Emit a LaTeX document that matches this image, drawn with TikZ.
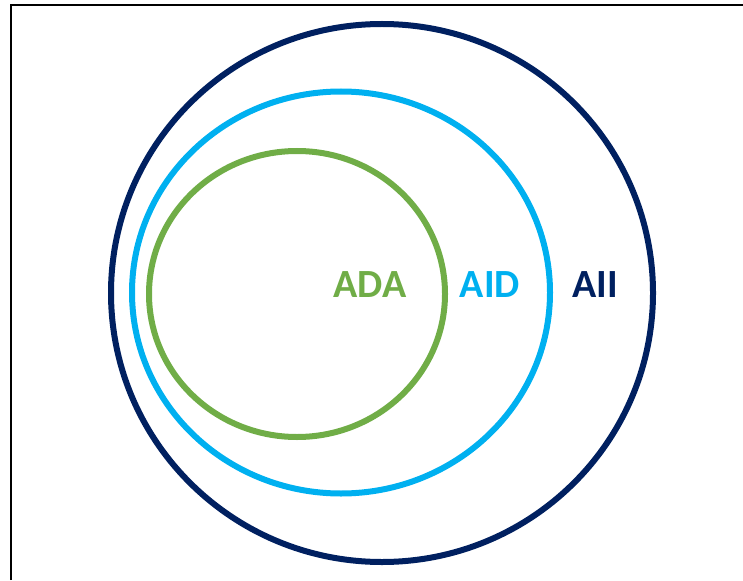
\documentclass[tikz,border=0pt]{standalone}
\usepackage{fontspec}
\setmainfont{Carlito}
\definecolor{allnavy}{RGB}{0,32,96}
\definecolor{aidblue}{RGB}{0,176,240}
\definecolor{adagreen}{RGB}{112,173,71}
\begin{document}
\begin{tikzpicture}[x=1pt, y=-1pt,
    ring/.style={line width=6pt},
    setlabel/.style={anchor=base, inner sep=0pt, font=\fontsize{40}{40}\selectfont\bfseries}]

    \pgfmathsetmacro{\w}{743}
    \pgfmathsetmacro{\h}{580}

    % 枠
    \useasboundingbox (0,0) rectangle (\w,\h);
    \draw[line width=2pt] (10.5,\h) -- (10.5,5.5) -- (\w,5.5);

    % 円
    \draw[ring, allnavy] (382,293) ellipse [x radius=271, y radius=269];
    \draw[ring, aidblue] (341,292.5) ellipse [x radius=209, y radius=201];
    \draw[ring, adagreen] (297,294) ellipse [x radius=148, y radius=143];

    % ラベル
    \node[setlabel, text=adagreen] (ada) at (370,297) {ADA};
    \node[setlabel, text=aidblue] (aid) at (490,297) {AID};
    \node[setlabel, text=allnavy] (aii) at (595,297) {AII};

\end{tikzpicture}
\end{document}
